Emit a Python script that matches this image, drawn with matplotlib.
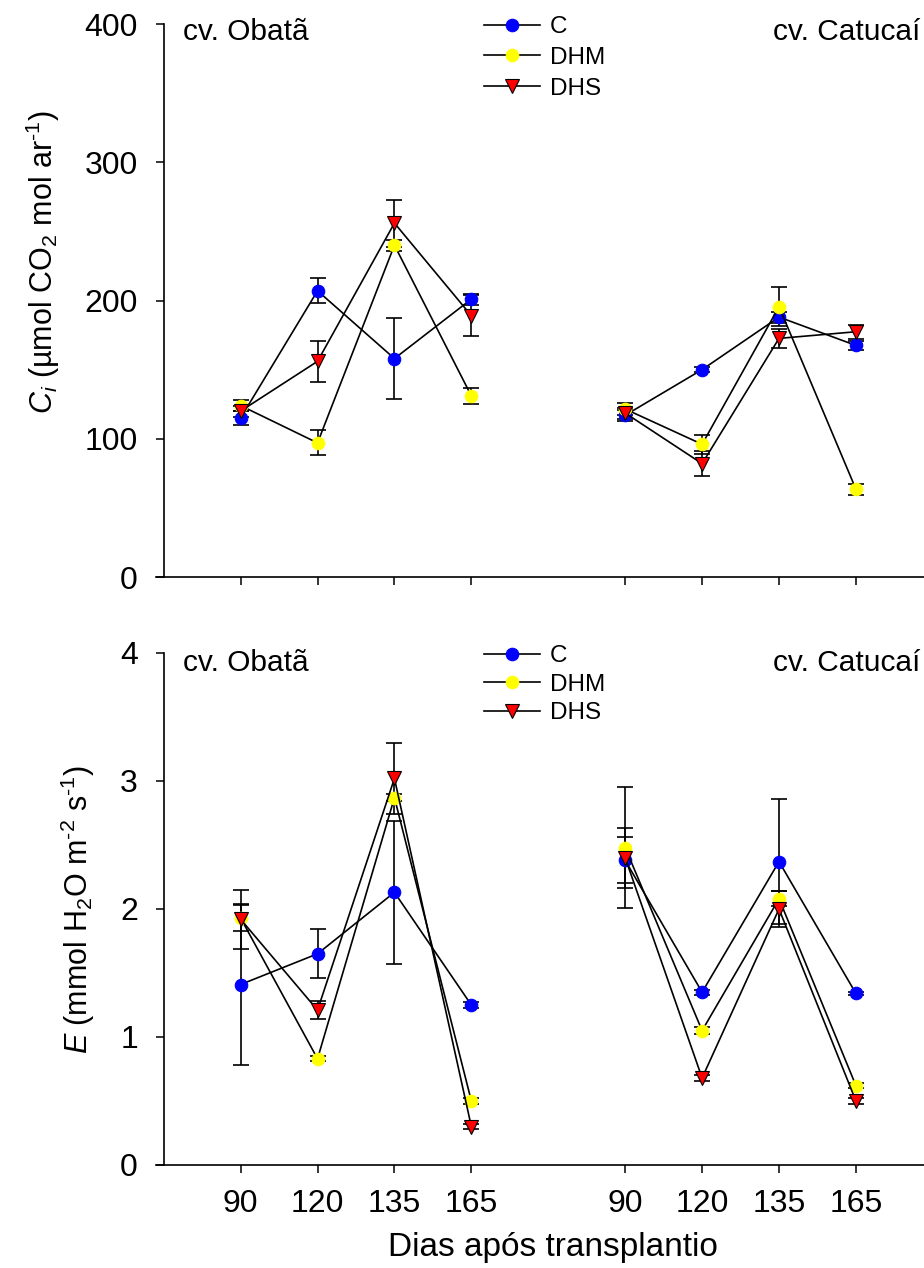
import numpy as np
import matplotlib
matplotlib.use('Agg')
import matplotlib.pyplot as plt

plt.rcParams['font.family'] = ['Liberation Sans', 'DejaVu Sans']
plt.rcParams['mathtext.fontset'] = 'custom'
plt.rcParams['mathtext.rm'] = 'Liberation Sans'
plt.rcParams['mathtext.it'] = 'Liberation Sans:italic'

# days after transplanting, same four dates for each cultivar
days = ['90', '120', '135', '165']
cultivars = ['cv. Obatã', 'cv. Catucaí']
treatments = ['C', 'DHM', 'DHS']

# Ci (umol CO2 mol-1), Obata then Catucai
ci_C = [115, 207, 158, 201, 117, 150, 188, 167.5]
ci_C_err = [5, 9, 29, 4, 4, 2, 4, 3]
ci_DHM = [124, 97, 240, 131, 121.5, 96, 195.5, 63.5]
ci_DHM_err = [4, 9, 4, 6, 4, 7, 14, 4]
ci_DHS = [120, 156, 256, 189, 118.6, 82, 172.6, 177.4]
ci_DHS_err = [4, 15, 17, 15, 4, 9, 7, 5]

# E (mmol H2O m-2 s-1)
e_C = [1.41, 1.65, 2.13, 1.25, 2.38, 1.35, 2.37, 1.34]
e_C_err = [0.63, 0.19, 0.56, 0.02, 0.18, 0.02, 0.49, 0.01]
e_DHM = [1.93, 0.83, 2.87, 0.50, 2.48, 1.05, 2.08, 0.62]
e_DHM_err = [0.10, 0.02, 0.03, 0.02, 0.47, 0.03, 0.06, 0.02]
e_DHS = [1.92, 1.21, 3.02, 0.30, 2.40, 0.68, 2.00, 0.50]
e_DHS_err = [0.23, 0.07, 0.28, 0.02, 0.235, 0.02, 0.14, 0.02]

styles = {'C': dict(marker='o', color='blue', ms=9, mec='blue'),
          'DHM': dict(marker='o', color='yellow', ms=9, mec='yellow'),
          'DHS': dict(marker='v', color='red', ms=10, mec='black')}

# group positions: 1..4 for Obata, 6..9 for Catucai
xpos = [np.arange(1, 5), np.arange(6, 10)]

W, H = 924, 1268
fig = plt.figure(figsize=(W / 100, H / 100), dpi=100)
ax1 = fig.add_axes([156 / W, 1 - 577 / H, 768 / W, (577 - 24) / H])
ax2 = fig.add_axes([156 / W, 1 - 1165 / H, 768 / W, (1165 - 653) / H])


def draw(ax, series, errs):
    handles = []
    for name, vals, err in zip(treatments, series, errs):
        st = styles[name]
        for g in range(2):
            v = vals[g * 4:(g + 1) * 4]
            e = err[g * 4:(g + 1) * 4]
            ax.errorbar(xpos[g], v, yerr=e, fmt='none', ecolor='black',
                        elinewidth=1.2, capsize=5.8, capthick=1.2, zorder=2)
            ln, = ax.plot(xpos[g], v, '-', color='black', lw=1.2,
                          marker=st['marker'], ms=st['ms'], mfc=st['color'],
                          mec=st['mec'], mew=0.8, zorder=3, label=name)
            if g == 0:
                handles.append(ln)
    return handles


h1 = draw(ax1, [ci_C, ci_DHM, ci_DHS], [ci_C_err, ci_DHM_err, ci_DHS_err])
h2 = draw(ax2, [e_C, e_DHM, e_DHS], [e_C_err, e_DHM_err, e_DHS_err])

for ax in (ax1, ax2):
    ax.set_xlim(-0.1, 9.885)
    ax.spines['left'].set_position(('data', 0))
    ax.spines['top'].set_visible(False)
    ax.spines['right'].set_visible(False)
    for s in ('left', 'bottom'):
        ax.spines[s].set_linewidth(1.2)
    ax.set_xticks(np.concatenate(xpos))
    ax.tick_params(direction='out', length=5.5, width=1.1, labelsize=23)
    ax.tick_params(axis='y', pad=13)
    ax.tick_params(axis='x', pad=12)

ax1.set_ylim(0, 400)
ax1.set_yticks([0, 100, 200, 300, 400])
ax1.tick_params(axis='x', labelbottom=False)
ax2.set_ylim(0, 4)
ax2.set_yticks([0, 1, 2, 3, 4])
ax2.set_xticklabels(days * 2)

ax1.set_ylabel(r'$C_i$ (µmol CO$_2$ mol ar$^{‐1}$)', fontsize=22)
ax1.yaxis.set_label_coords(-0.122, 0.57)
ax2.set_ylabel(r'$E$ (mmol H$_2$O m$^{‐2}$ s$^{‐1}$)', fontsize=22)
ax2.yaxis.set_label_coords(-0.077, 0.5)
ax2.set_xlabel('Dias após transplantio', fontsize=24)
ax2.xaxis.set_label_coords(0.517, -0.13)

# cultivar names
for ax, ytxt in ((ax1, 394), (ax2, 3.92)):
    ax.text(0.25, ytxt, cultivars[0], fontsize=21.5, va='center', ha='left')
    ax.text(7.92, ytxt, cultivars[1], fontsize=21.5, va='center', ha='left')

fig.legend(h1, treatments, loc='upper left', bbox_to_anchor=(484 / W, 1 - 16 / H),
           frameon=False, fontsize=17.5, handlelength=2.3, handletextpad=0.4,
           labelspacing=0.36, borderpad=0, borderaxespad=0)
fig.legend(h2, treatments, loc='upper left', bbox_to_anchor=(484 / W, 1 - 645 / H),
           frameon=False, fontsize=17.5, handlelength=2.3, handletextpad=0.4,
           labelspacing=0.27, borderpad=0, borderaxespad=0)

fig.savefig('out.png', dpi=100)
